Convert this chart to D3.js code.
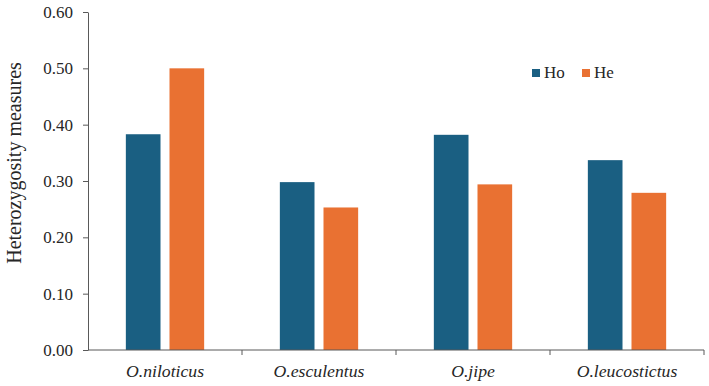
<!DOCTYPE html>
<html lang="en">
<head>
  <meta charset="utf-8">
  <script src="https://d3js.org/d3.v7.min.js"></script>
  <style>
    body { margin: 0; background: #fff; }
  </style>
</head>
<body>
  <script>
    // data
    const species = ["O.niloticus", "O.esculentus", "O.jipe", "O.leucostictus"];
    const series = ["Ho", "He"];
    const hoValues = [0.383, 0.298, 0.382, 0.337];
    const heValues = [0.500, 0.253, 0.294, 0.279];
    const yTicks = [0, 0.1, 0.2, 0.3, 0.4, 0.5, 0.6];
    const colors = { Ho: "#1a5f82", He: "#e97132" };

    const W = 709, H = 386;
    const mLeft = 88, mRight = 704, mTop = 12, mBottom = 350;
    const serif = "'Liberation Serif', 'Times New Roman', 'DejaVu Serif', serif";

    const rows = species.map((s, i) => ({ name: s, Ho: hoValues[i], He: heValues[i] }));

    const svg = d3.select("body").append("svg")
      .attr("width", W).attr("height", H)
      .style("font-family", serif);

    const x0 = d3.scaleBand().domain(species).range([mLeft, mRight]).padding(0);
    const x1 = d3.scaleBand().domain(series).range([0, x0.bandwidth()])
      .paddingInner(0.206).paddingOuter(0.867);
    const y = d3.scaleLinear().domain([0, 0.6]).range([mBottom, mTop]);

    // bars
    svg.append("g").selectAll("g")
      .data(rows).join("g")
      .attr("transform", d => `translate(${x0(d.name)},0)`)
      .selectAll("rect")
      .data(d => series.map(k => ({ key: k, value: d[k] })))
      .join("rect")
      .attr("x", d => x1(d.key))
      .attr("y", d => y(d.value))
      .attr("width", x1.bandwidth())
      .attr("height", d => y(0) - y(d.value))
      .attr("fill", d => colors[d.key]);

    // y axis
    const yAxis = svg.append("g")
      .attr("transform", `translate(${mLeft},0)`)
      .call(d3.axisLeft(y).tickValues(yTicks).tickFormat(d3.format(".2f")).tickSize(5).tickSizeOuter(0))
      .attr("font-family", null).attr("font-size", null);
    yAxis.selectAll("text")
      .style("font-family", serif).style("font-size", "17px")
      .attr("fill", "#262626").attr("x", -15);
    yAxis.select(".domain").attr("stroke", "#595959");
    yAxis.selectAll(".tick line").attr("stroke", "#595959");

    // x axis: ticks on category boundaries
    const xAxis = svg.append("g").attr("transform", `translate(0,${mBottom})`);
    xAxis.append("line").attr("x1", mLeft).attr("x2", mRight)
      .attr("stroke", "#595959");
    const bounds = species.map(s => x0(s) + x0.bandwidth());
    xAxis.selectAll(".bt").data(bounds).join("line")
      .attr("x1", d => d).attr("x2", d => d).attr("y1", 0).attr("y2", 5)
      .attr("stroke", "#595959");
    xAxis.selectAll(".lab").data(species).join("text")
      .attr("x", d => x0(d) + x0.bandwidth() / 2)
      .attr("y", 27)
      .attr("text-anchor", "middle")
      .attr("fill", "#262626")
      .style("font-family", serif)
      .style("font-style", "italic")
      .style("font-size", "17.7px")
      .text(d => d);

    // y title
    svg.append("text")
      .attr("transform", `translate(21,${(mTop + mBottom) / 2 - 18}) rotate(-90)`)
      .attr("text-anchor", "middle")
      .attr("fill", "#262626")
      .style("font-family", serif)
      .style("font-size", "20px")
      .text("Heterozygosity measures");

    // legend
    const legend = svg.append("g");
    const legX = [532, 582];
    series.forEach((s, i) => {
      legend.append("rect").attr("x", legX[i]).attr("y", 69)
        .attr("width", 8).attr("height", 8).attr("fill", colors[s]);
      legend.append("text").attr("x", legX[i] + 12).attr("y", 78)
        .attr("fill", "#262626")
        .style("font-family", serif)
        .style("font-size", "17px").text(s);
    });
  </script>
</body>
</html>
